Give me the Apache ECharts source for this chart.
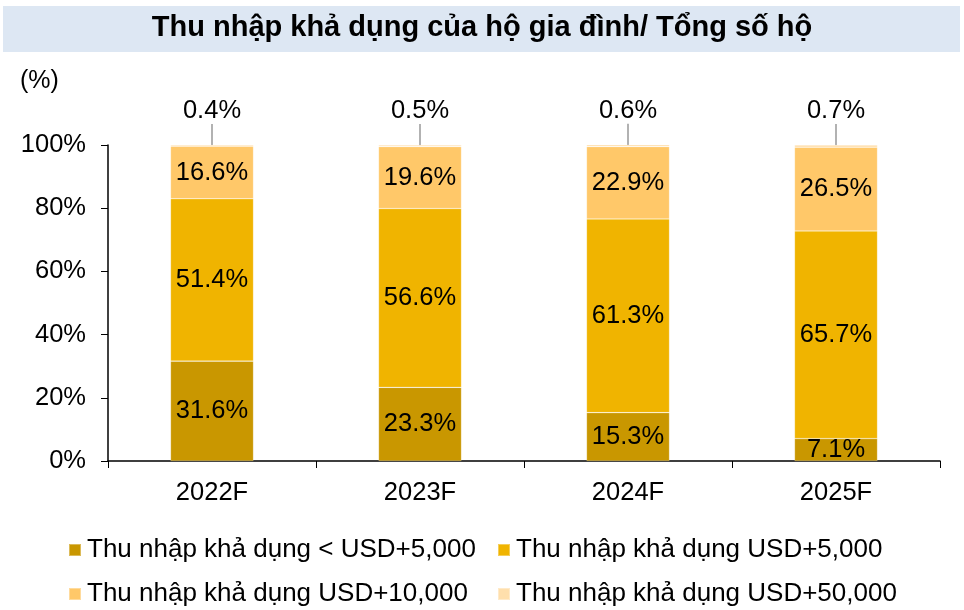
<!DOCTYPE html>
<html>
<head>
<meta charset="utf-8">
<script src="https://cdn.jsdelivr.net/npm/echarts@6/dist/echarts.min.js"></script>
<style>
    html, body {margin: 0; padding: 0; background: #fff;}
    #main {width: 964px; height: 610px;}
</style>
</head>
<body>
<div id="main"></div>
<script>
    var categories = ['2022F', '2023F', '2024F', '2025F'];
    var seriesNames = [
        'Thu nhập khả dụng < USD+5,000',
        'Thu nhập khả dụng USD+5,000',
        'Thu nhập khả dụng USD+10,000',
        'Thu nhập khả dụng USD+50,000'
    ];
    var under5k = [31.6, 23.3, 15.3, 7.1];
    var usd5k = [51.4, 56.6, 61.3, 65.7];
    var usd10k = [16.6, 19.6, 22.9, 26.5];
    var usd50k = [0.4, 0.5, 0.6, 0.7];
    var colors = ['#C99700', '#F0B400', '#FFC869', '#FFDFAC'];

    var font = 'Liberation Sans, Arial, sans-serif';
    var chart = echarts.init(document.getElementById('main'));

    function pct(p) {
        return p.value.toFixed(1) + '%';
    }

    function barSeries(idx, data, extra) {
        var s = {
            name: seriesNames[idx],
            type: 'bar',
            stack: 'total',
            barWidth: 83,
            data: data,
            itemStyle: {color: colors[idx], borderColor: 'rgba(255,255,255,0.35)', borderWidth: 0.6},
            label: {
                show: true,
                position: 'inside',
                formatter: pct,
                color: '#000',
                fontSize: 25.5,
                fontFamily: font
            }
        };
        return Object.assign(s, extra || {});
    }

    // mỗi chú thích một ô riêng, xếp 2 hàng x 2 cột
    var legendPos = [[63, 532], [492, 532], [63, 576], [492, 576]];
    var legends = legendPos.map(function (p, i) {
        return {
            data: [seriesNames[i]],
            left: p[0],
            top: p[1],
            itemWidth: 12,
            itemHeight: 12,
            itemGap: 0,
            icon: 'rect',
            textStyle: {fontSize: 26, fontFamily: font, color: '#000', padding: [0, 0, 0, 1]}
        };
    });

    var option = {
        animation: false,
        color: colors,
        graphic: [
            {type: 'rect', shape: {x: 3, y: 6, width: 957, height: 46}, style: {fill: '#DDE7F3'}, z: 0},
            {
                type: 'text', left: 'center', top: 13,
                style: {text: 'Thu nhập khả dụng của hộ gia đình/ Tổng số hộ', font: 'bold 29px ' + font, fill: '#000'}
            },
            {type: 'text', left: 20, top: 69, style: {text: '(%)', font: '25px ' + font, fill: '#000'}}
        ],
        legend: legends,
        grid: {left: 108, right: 24, top: 145, bottom: 149, containLabel: false},
        xAxis: {
            type: 'category',
            data: categories,
            axisLine: {lineStyle: {color: '#000', width: 1.5}},
            axisTick: {show: true, alignWithLabel: false, length: 7, lineStyle: {color: '#000'}},
            axisLabel: {fontSize: 25.5, fontFamily: font, color: '#000', margin: 19}
        },
        yAxis: {
            type: 'value',
            min: 0,
            max: 100,
            interval: 20,
            splitLine: {show: false},
            axisLine: {show: true, lineStyle: {color: '#000', width: 1.5}},
            axisTick: {show: true, length: 7, lineStyle: {color: '#000'}},
            axisLabel: {
                fontSize: 25.5, fontFamily: font, color: '#000', margin: 22,
                formatter: function (v) { return v + '%'; }
            }
        },
        series: [
            barSeries(0, under5k),
            barSeries(1, usd5k),
            barSeries(2, usd10k),
            barSeries(3, usd50k, {
                label: {
                    show: true,
                    position: 'top',
                    distance: 4,
                    formatter: pct,
                    color: '#000',
                    fontSize: 25.5,
                    fontFamily: font
                },
                labelLayout: {dy: -17},
                labelLine: {show: true, lineStyle: {color: '#999', width: 1.5}}
            })
        ]
    };
    chart.setOption(option);
</script>
</body>
</html>
